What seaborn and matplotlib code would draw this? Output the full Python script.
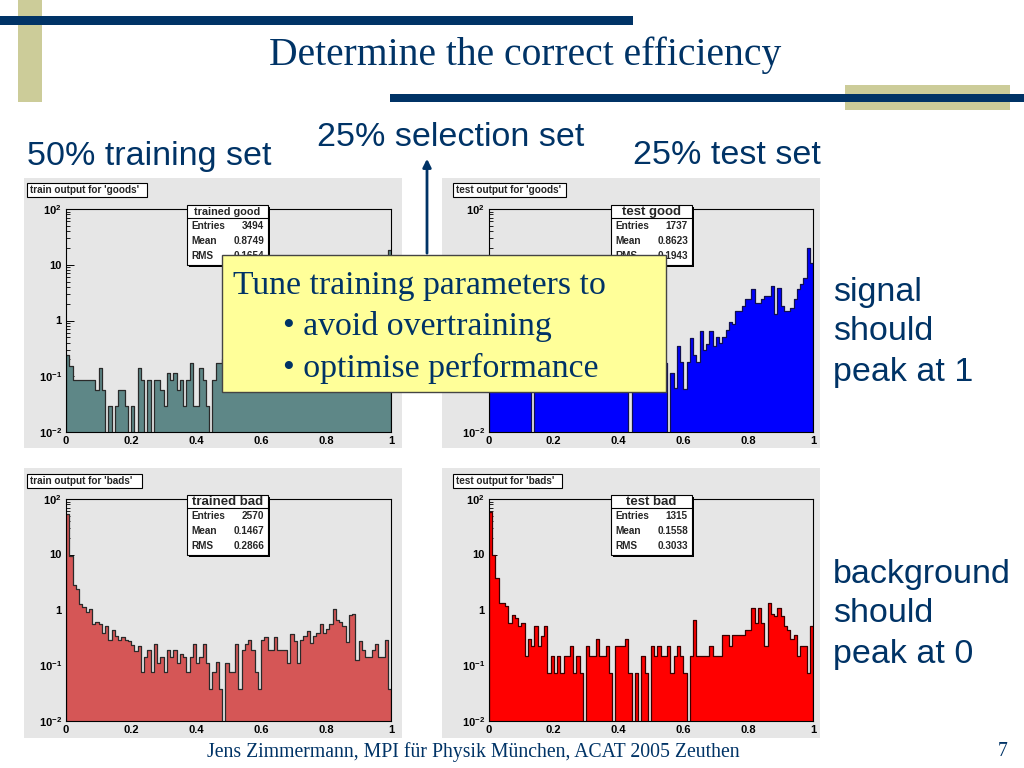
import numpy as np
import pandas as pd
import seaborn as sns
import matplotlib.pyplot as plt
from matplotlib.patches import Rectangle
from matplotlib.ticker import FixedLocator, FixedFormatter, LogLocator, NullFormatter, MultipleLocator

sns.set_theme(style="white")
plt.rcParams['font.family'] = ['Liberation Sans', 'DejaVu Sans']
plt.rcParams['mathtext.fontset'] = 'custom'
plt.rcParams['mathtext.rm'] = 'Liberation Sans:bold'
plt.rcParams['mathtext.bf'] = 'Liberation Sans:bold'
plt.rcParams['mathtext.it'] = 'Liberation Sans:bold'

NAVY = '#003366'
KHAKI = '#cccc99'
W, H = 1024, 768

# --- data: 100 bins on [0, 1], normalised output per bin
n_bins = 100

train_good = [0.24, 0.15, 0.086, 0.086, 0.086, 0.086, 0.086, 0.086, 0.086, 0.057,
              0.14, 0.057, 0, 0.029, 0, 0.029, 0.057, 0.057, 0.029, 0,
              0.029, 0, 0.14, 0.086, 0, 0.086, 0, 0.086, 0.086, 0.057,
              0.029, 0.114, 0.086, 0.114, 0.057, 0.086, 0.029, 0.086, 0.17, 0.029,
              0.029, 0.14, 0.086, 0.029, 0, 0.086, 0.17, 0.17, 0.2, 0.14,
              0.2, 0.17, 0.26, 0.2, 0.23, 0.29, 0.26, 0.34, 0.29, 0.4,
              0.37, 0.46, 0.43, 0.54, 0.49, 0.63, 0.6, 0.74, 0.69, 0.86,
              0.8, 0.97, 1.03, 1.14, 1.2, 1.37, 1.29, 1.6, 1.54, 1.77,
              1.86, 2.06, 2.17, 2.4, 2.29, 2.63, 2.86, 2.74, 3.03, 3.2,
              3.49, 3.4, 3.74, 3.97, 4.34, 4.63, 5.03, 5.71, 7.09, 18.3]

test_good = [0.17, 0.12, 0.06, 0.12, 0.06, 0.06, 0.12, 0.06, 0.17, 0.06,
             0.06, 0.12, 0.06, 0, 0.06, 0.12, 0.06, 0.06, 0.06, 0.12,
             0.06, 0.06, 0.12, 0.06, 0.06, 0.06, 0.12, 0.06, 0.06, 0.12,
             0.06, 0.12, 0.06, 0.06, 0.17, 0.06, 0.06, 0.12, 0.06, 0.12,
             0.06, 0.12, 0.06, 0, 0.06, 0.12, 0.06, 0.17, 0.12, 0.06,
             0.12, 0.17, 0.06, 0.12, 0.17, 0, 0.116, 0.061, 0.354, 0.178,
             0.059, 0.178, 0.48, 0.24, 0.178, 0.65, 0.30, 0.38, 0.65, 0.354,
             0.51, 0.40, 0.51, 0.68, 0.95, 0.87, 1.48, 1.48, 1.82, 2.4,
             2.4, 3.67, 2.09, 2.09, 2.4, 2.76, 2.76, 4.16, 1.31, 3.8,
             1.82, 1.48, 1.48, 1.65, 2.4, 3.6, 4.5, 5.9, 19.7, 10.6]

train_bad = [53, 9.4, 2.8, 2.4, 1.3, 1.14, 0.92, 1.06, 0.55, 0.62,
             0.57, 0.38, 0.52, 0.29, 0.44, 0.34, 0.29, 0.32, 0.29, 0.28,
             0.23, 0.18, 0.22, 0.075, 0.14, 0.19, 0.075, 0.24, 0.11, 0.14,
             0.075, 0.19, 0.14, 0.19, 0.11, 0.16, 0.14, 0.075, 0.14, 0.24,
             0.11, 0.14, 0.24, 0.11, 0.037, 0.075, 0.115, 0.037, 0, 0.11,
             0.075, 0.075, 0.24, 0.037, 0.19, 0.24, 0.29, 0.19, 0.075, 0.037,
             0.29, 0.32, 0.19, 0.19, 0.32, 0.19, 0.19, 0.19, 0.11, 0.37,
             0.28, 0.11, 0.29, 0.34, 0.42, 0.25, 0.34, 0.38, 0.55, 0.38,
             0.45, 0.55, 1.06, 0.65, 0.62, 0.52, 0.26, 0.82, 0.86, 0.125,
             0.28, 0.19, 0.14, 0.14, 0.19, 0.24, 0.14, 0.14, 0.29, 0.037]

test_bad = [58, 10, 3.8, 1.34, 1.34, 1.2, 0.59, 0.8, 0.72, 0.51,
            0.59, 0.15, 0.3, 0.22, 0.51, 0.22, 0.34, 0.51, 0.074, 0.15,
            0.074, 0.15, 0.074, 0.15, 0.15, 0.22, 0.074, 0.15, 0.074, 0,
            0.22, 0.15, 0.15, 0.3, 0.15, 0.15, 0.22, 0.074, 0, 0.22,
            0.22, 0.22, 0.3, 0.074, 0, 0.074, 0, 0.15, 0.074, 0,
            0.22, 0.15, 0.22, 0.15, 0.15, 0.22, 0.074, 0.15, 0.22, 0.15,
            0.074, 0, 0.15, 0.67, 0.15, 0.15, 0.15, 0.15, 0.22, 0.15,
            0.15, 0.15, 0.36, 0.36, 0.22, 0.36, 0.36, 0.36, 0.36, 0.44,
            0.44, 1.09, 0.59, 1.09, 0.59, 0.22, 1.34, 0.83, 0.78, 1.09,
            0.78, 0.51, 0.44, 0.3, 0.36, 0.15, 0.22, 0.22, 0.074, 0.51]

x_ticks = [0, 0.2, 0.4, 0.6, 0.8, 1]
x_labels = ['0', '0.2', '0.4', '0.6', '0.8', '1']
y_ticks = [0.01, 0.1, 1, 10, 100]
y_labels = [r'$\mathbf{10^{-2}}$', r'$\mathbf{10^{-1}}$', '1', '10', r'$\mathbf{10^{2}}$']

panels = [
    dict(vals=train_good, fill='#5e8787', edge='#2a2a2a',
         bg=(24, 178, 378, 270), ax=(66, 209, 325, 223),
         title="train output for 'goods'", tbox=(27, 183, 120, 14),
         stats=("trained good", "3494", "0.8749", "0.1654"), sbox=(187, 205), tsize=7.8),
    dict(vals=test_good, fill='#0000ff', edge='#101050',
         bg=(442, 178, 378, 270), ax=(489, 209, 324, 223),
         title="test output for 'goods'", tbox=(453, 183, 113, 14),
         stats=("test good", "1737", "0.8623", "0.1943"), sbox=(611, 205), tsize=9.5),
    dict(vals=train_bad, fill='#d55656', edge='#2a2a2a',
         bg=(24, 468, 378, 270), ax=(66, 499, 325, 222),
         title="train output for 'bads'", tbox=(27, 474, 115, 14),
         stats=("trained bad", "2570", "0.1467", "0.2866"), sbox=(187, 495), tsize=9.5),
    dict(vals=test_bad, fill='#ff0000', edge='#3a0000',
         bg=(442, 468, 378, 270), ax=(489, 499, 324, 222),
         title="test output for 'bads'", tbox=(453, 474, 109, 14),
         stats=("test bad", "1315", "0.1558", "0.3033"), sbox=(611, 495), tsize=9.5),
]


def frac(x, y, w, h):
    return [x / W, 1 - (y + h) / H, w / W, h / H]


fig = plt.figure(figsize=(10.24, 7.68), dpi=100)
fig.patch.set_facecolor('white')

under = fig.add_axes([0, 0, 1, 1], zorder=0)
under.set_xlim(0, W)
under.set_ylim(H, 0)
under.axis('off')

ov = fig.add_axes([0, 0, 1, 1], zorder=3)
ov.set_xlim(0, W)
ov.set_ylim(H, 0)
ov.axis('off')
ov.patch.set_alpha(0)

centers = (np.arange(n_bins) + 0.5) / n_bins

for p in panels:
    x, y, w, h = p['bg']
    under.add_patch(Rectangle((x, y), w, h, color='#e6e6e6', lw=0))

    df = pd.DataFrame({'out': centers, 'val': p['vals']})
    ax = fig.add_axes(frac(*p['ax']), zorder=1)
    ax.set_facecolor('#e6e6e6')
    ax.set_yscale('log')
    sns.histplot(data=df, x='out', weights='val', bins=n_bins, binrange=(0, 1),
                 element='step', fill=True, color=p['fill'], alpha=1,
                 edgecolor=p['edge'], linewidth=0.9, ax=ax)
    ax.set_xlim(0, 1)
    ax.set_ylim(0.01, 100)
    ax.set_xlabel('')
    ax.set_ylabel('')
    ax.xaxis.set_major_locator(FixedLocator(x_ticks))
    ax.xaxis.set_major_formatter(FixedFormatter(x_labels))
    ax.xaxis.set_minor_locator(MultipleLocator(0.05))
    ax.yaxis.set_major_locator(FixedLocator(y_ticks))
    ax.yaxis.set_major_formatter(FixedFormatter(y_labels))
    ax.yaxis.set_minor_locator(LogLocator(base=10, subs=np.arange(2, 10)))
    ax.yaxis.set_minor_formatter(NullFormatter())
    ax.tick_params(which='both', direction='in', colors='black', labelsize=8,
                   left=True, bottom=True, top=False, right=False)
    ax.tick_params(which='major', length=6, width=0.7, pad=3)
    ax.tick_params(which='minor', length=3, width=0.6)
    for lbl in ax.get_xticklabels() + ax.get_yticklabels():
        lbl.set_fontweight('bold')
    for s in ax.spines.values():
        s.set_color('black')
        s.set_linewidth(0.8)

    # panel title box
    tx, ty, tw, th = p['tbox']
    ov.add_patch(Rectangle((tx, ty), tw, th, fc='white', ec='black', lw=0.8, zorder=2))
    ov.text(tx + 3, ty + th / 2, p['title'], fontsize=7.2, fontweight='bold',
            va='center', ha='left', zorder=3)

    # stats box
    sx, sy = p['sbox']
    sw, sh = 81, 60
    name, ent, mean, rms = p['stats']
    ov.add_patch(Rectangle((sx + 2, sy + 2), sw, sh, fc='black', lw=0, zorder=2))
    ov.add_patch(Rectangle((sx, sy), sw, sh, fc='white', ec='black', lw=0.8, zorder=2))
    ov.plot([sx, sx + sw], [sy + 13, sy + 13], color='black', lw=0.8, zorder=3)
    ov.text(sx + sw / 2, sy + 7, name, fontsize=p['tsize'], fontweight='bold',
            ha='center', va='center', zorder=3)
    for i, (lab, val) in enumerate([('Entries', ent), ('Mean', mean), ('RMS', rms)]):
        yy = sy + 21 + i * 15
        ov.text(sx + 4, yy, lab, fontsize=7.2, fontweight='bold', ha='left', va='center', zorder=3)
        ov.text(sx + sw - 4, yy, val, fontsize=7.2, fontweight='bold', ha='right', va='center', zorder=3)

# slide decoration
ov.add_patch(Rectangle((18, 0), 24, 102, color=KHAKI, lw=0, zorder=1))
ov.add_patch(Rectangle((0, 16), 633, 9, color=NAVY, lw=0, zorder=2))
ov.add_patch(Rectangle((845, 85), 165, 25, color=KHAKI, lw=0, zorder=1))
ov.add_patch(Rectangle((390, 94), 634, 8, color=NAVY, lw=0, zorder=2))

ov.text(525, 55, "Determine the correct efficiency", ha='center', va='center',
        family='Liberation Serif', fontsize=28.5, color=NAVY)

ov.text(27, 156, "50% training set", ha='left', va='center', fontsize=24.5, color=NAVY)
ov.text(451, 138, "25% selection set", ha='center', va='center', fontsize=24.5, color=NAVY)
ov.text(633, 156, "25% test set", ha='left', va='center', fontsize=24.5, color=NAVY)

ov.annotate('', xy=(427, 156), xytext=(427, 256),
            arrowprops=dict(arrowstyle='-|>', color=NAVY, lw=2, mutation_scale=12), zorder=4)

# tuning box
ov.add_patch(Rectangle((222, 255), 444, 137, fc='#ffff99', ec='#444444', lw=1, zorder=10))
ov.text(233, 286, "Tune training parameters to", family='Liberation Serif', fontsize=24.3,
        color=NAVY, va='center', ha='left', zorder=11)
ov.text(283, 326, "\u2022 avoid overtraining", family='Liberation Serif', fontsize=24.3,
        color=NAVY, va='center', ha='left', zorder=11)
ov.text(283, 368, "\u2022 optimise performance", family='Liberation Serif', fontsize=24.3,
        color=NAVY, va='center', ha='left', zorder=11)

for i, line in enumerate(["signal", "should", "peak at 1"]):
    ov.text(833, 292 + i * 40, line, fontsize=24.5, color=NAVY, va='center', ha='left')
for i, line in enumerate(["background", "should", "peak at 0"]):
    ov.text(833, 574 + i * 40, line, fontsize=24.5, color=NAVY, va='center', ha='left')

ov.text(473, 752, "Jens Zimmermann, MPI f\u00fcr Physik M\u00fcnchen, ACAT 2005 Zeuthen",
        family='Liberation Serif', fontsize=14.2, color=NAVY, ha='center', va='center')
ov.text(1003, 752, "7", family='Liberation Serif', fontsize=14.2, color=NAVY, ha='center', va='center')

fig.savefig('out.png', dpi=100)
